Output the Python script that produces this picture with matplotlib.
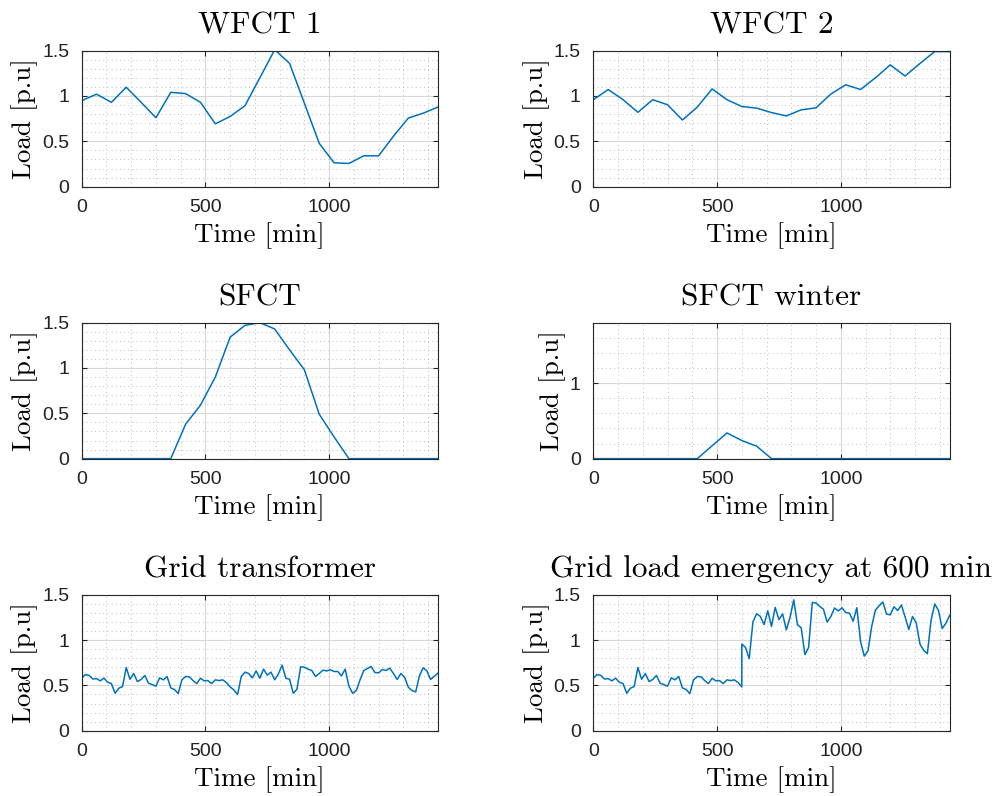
import numpy as np
import matplotlib
matplotlib.use("Agg")
import matplotlib.pyplot as plt
from matplotlib.ticker import MultipleLocator, FuncFormatter

# hourly forecasts
t_hourly = np.arange(0, 1441, 60)
wfct1 = [0.948, 1.02, 0.93, 1.096, 0.93, 0.76, 1.04, 1.026, 0.93, 0.693, 0.774, 0.893, 1.2,
         1.51, 1.36, 0.92, 0.478, 0.263, 0.256, 0.34, 0.34, 0.556, 0.756, 0.81, 0.878]
wfct2 = [0.959, 1.071, 0.959, 0.82, 0.959, 0.903, 0.735, 0.877, 1.078, 0.959, 0.884, 0.866, 0.817,
         0.78, 0.847, 0.869, 1.022, 1.123, 1.071, 1.2, 1.343, 1.22, 1.358, 1.49, 1.49]
sfct = [0, 0, 0, 0, 0, 0, 0, 0.38, 0.59, 0.90, 1.34, 1.47, 1.50, 1.43, 1.20, 0.98, 0.49, 0.24,
        0, 0, 0, 0, 0, 0, 0]
sfct_winter = [0, 0, 0, 0, 0, 0, 0, 0, 0.17, 0.34, 0.24, 0.165, 0, 0, 0, 0, 0, 0, 0, 0, 0, 0,
               0, 0, 0]

# 15 min grid load
t_15min = np.arange(0, 1441, 15)
grid_trafo = [0.58, 0.62, 0.61, 0.57, 0.575, 0.55, 0.58, 0.535, 0.52, 0.413, 0.469, 0.487, 0.697,
              0.568, 0.631, 0.542, 0.565, 0.609, 0.524, 0.509, 0.491, 0.583, 0.561, 0.598, 0.472,
              0.454, 0.41, 0.561, 0.598, 0.594, 0.553, 0.52, 0.579, 0.55, 0.553, 0.52, 0.561,
              0.553, 0.561, 0.531, 0.483, 0.45, 0.399, 0.598, 0.646, 0.631, 0.583, 0.66, 0.579,
              0.679, 0.613, 0.646, 0.561, 0.627, 0.723, 0.579, 0.568, 0.413, 0.458, 0.705, 0.701,
              0.679, 0.664, 0.598, 0.631, 0.668, 0.66, 0.672, 0.653, 0.653, 0.605, 0.679, 0.491,
              0.413, 0.443, 0.561, 0.664, 0.686, 0.708, 0.642, 0.638, 0.675, 0.664, 0.69, 0.631,
              0.565, 0.631, 0.59, 0.48, 0.443, 0.428, 0.605, 0.694, 0.66, 0.565, 0.601, 0.635]
# emergency: same as trafo until 600 min, then jumps
emergency_after = [0.955, 0.919, 0.795, 1.20, 1.29, 1.26, 1.17, 1.322, 1.15, 1.36, 1.225, 1.288,
                   1.112, 1.25, 1.443, 1.168, 1.136, 0.839, 0.917, 1.415, 1.408, 1.371, 1.34,
                   1.198, 1.26, 1.353, 1.321, 1.356, 1.303, 1.297, 1.208, 1.356, 0.983, 0.823,
                   0.88, 1.15, 1.33, 1.378, 1.42, 1.286, 1.278, 1.367, 1.326, 1.386, 1.255, 1.116,
                   1.26, 1.19, 0.957, 0.887, 0.849, 1.22, 1.398, 1.325, 1.127, 1.185, 1.273]
t_emerg = np.concatenate([t_15min[:41], t_15min[40:]])
emergency = grid_trafo[:41] + emergency_after

titles = ['WFCT 1', 'WFCT 2', 'SFCT', 'SFCT winter', 'Grid transformer',
          'Grid load emergency at 600 min']

panels = [
    (t_hourly, wfct1, 1.5, 0.5, 0.1),
    (t_hourly, wfct2, 1.5, 0.5, 0.1),
    (t_hourly, sfct, 1.5, 0.5, 0.1),
    (t_hourly, sfct_winter, 1.8, 1.0, 0.2),
    (t_15min, grid_trafo, 1.5, 0.5, 0.1),
    (t_emerg, emergency, 1.5, 0.5, 0.1),
]

serif = 'cmr10'
tick_font = 'Liberation Sans'
line_col = '#0072BD'
box_col = '#262626'

fig = plt.figure(figsize=(10.05, 7.96), dpi=100)

lefts = [0.0813, 0.5904]
bottoms = [0.7655, 0.4238, 0.082]
w, h = 0.3545, 0.1709

for i, (t, y, ymax, ystep, yminor) in enumerate(panels):
    ax = fig.add_axes([lefts[i % 2], bottoms[i // 2], w, h])
    ax.plot(t, y, color=line_col, lw=1.1, clip_on=True)
    ax.set_xlim(0, 1440)
    ax.set_ylim(0, ymax)
    ax.xaxis.set_major_locator(MultipleLocator(500))
    ax.xaxis.set_minor_locator(MultipleLocator(100))
    ax.yaxis.set_major_locator(MultipleLocator(ystep))
    ax.yaxis.set_minor_locator(MultipleLocator(yminor))
    ax.yaxis.set_major_formatter(FuncFormatter(lambda v, p: f'{v:g}'))

    ax.grid(True, which='major', color='#d8d8d8', lw=0.8)
    ax.grid(True, which='minor', color='#a8a8a8', lw=0.6, linestyle=(0, (1, 4)))
    ax.set_axisbelow(True)

    ax.tick_params(which='major', direction='in', length=3.5, width=0.8, color=box_col,
                   top=True, right=True, labelsize=14, pad=9, labelcolor='#222222')
    ax.tick_params(which='minor', length=0, top=True, right=True)
    for lab in ax.get_xticklabels() + ax.get_yticklabels():
        lab.set_family(tick_font)
    for sp in ax.spines.values():
        sp.set_color(box_col)
        sp.set_linewidth(0.8)

    ax.set_title(titles[i], family=serif, fontsize=22.5, pad=12.5)
    ax.set_xlabel('Time [min]', family=serif, fontsize=19.5, labelpad=4.5)
    ax.set_ylabel('Load [p.u]', family=serif, fontsize=19.5, labelpad=3)

fig.savefig('out.png', dpi=100)
